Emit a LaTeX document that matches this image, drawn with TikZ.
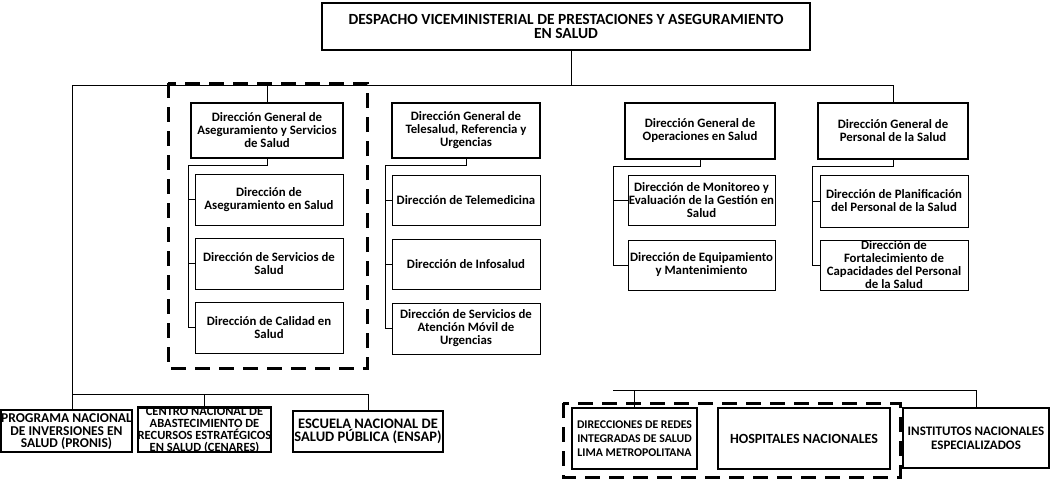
\documentclass[tikz,border=0pt]{standalone}
\usepackage{fontspec}
\setmainfont{Carlito}
\begin{document}
\begin{tikzpicture}[x=1pt,y=-1pt,
  lbl/.style={font=\bfseries\fontsize{12.8}{13}\selectfont, align=center, inner sep=0pt},
  dgbox/.style={lbl, draw, line width=2.2pt},
  subbox/.style={lbl, draw, line width=0.8pt},
  instbox/.style={draw, line width=2.2pt, inner sep=0pt, align=center},
  fs/.style 2 args={font=\bfseries\fontsize{#1}{#2}\selectfont},
  topbox/.style={draw, line width=2.2pt, inner sep=0pt, align=center, font=\bfseries\fontsize{15.5}{14.5}\selectfont},
  conn/.style={line width=0.8pt},
  grp/.style={line width=3pt, dash pattern=on 15pt off 9pt},
  sz/.style 2 args={minimum width=#1pt, minimum height=#2pt}]
\useasboundingbox (0,0) rectangle (1051,479);

% top
\node[topbox, sz={488}{47}] (top) at (566,26.5) {DESPACHO VICEMINISTERIAL DE PRESTACIONES Y ASEGURAMIENTO\\EN SALUD};

% column 1
\node[dgbox, sz={152}{55}] (dga) at (267,130.5) {Dirección General de\\Aseguramiento y Servicios\\de Salud};
\node[subbox, sz={148}{51}] (a1) at (269,199.5) {Dirección de\\Aseguramiento en Salud};
\node[subbox, sz={148}{51}] (a2) at (269,263.5) {Dirección de Servicios de\\Salud};
\node[subbox, sz={148}{51}] (a3) at (269,327.5) {Dirección de Calidad en\\Salud};

% column 2
\node[dgbox, sz={148}{55}] (dgt) at (466,130.5) {Dirección General de\\Telesalud, Referencia y\\Urgencias};
\node[subbox, sz={148}{50}] (t1) at (466,200) {Dirección de Telemedicina};
\node[subbox, sz={148}{50}] (t2) at (466,264) {Dirección de Infosalud};
\node[subbox, sz={148}{51}] (t3) at (466,328.5) {Dirección de Servicios de\\Atención Móvil de\\Urgencias};

% column 3
\node[dgbox, sz={150}{56}] (dgo) at (700,131) {Dirección General de\\Operaciones en Salud};
\node[subbox, sz={147}{50}] (o1) at (701.5,200) {Dirección de Monitoreo y\\Evaluación de la Gestión en\\Salud};
\node[subbox, sz={147}{50}] (o2) at (701.5,265) {Dirección de Equipamiento\\y Mantenimiento};

% column 4
\node[dgbox, sz={150}{56}] (dgp) at (893,131) {Dirección General de\\Personal de la Salud};
\node[subbox, sz={148}{52}] (p1) at (894,201) {Dirección de Planificación\\del Personal de la Salud};
\node[subbox, sz={148}{50}] (p2) at (894,265) {Dirección de\\Fortalecimiento de\\Capacidades del Personal\\de la Salud};

% bottom left
\node[instbox, fs={13.5}{12.5}, sz={127}{42}, text depth=-10pt] (pronis) at (66.5,431) {PROGRAMA NACIONAL\\DE INVERSIONES EN\\SALUD (PRONIS)};
\node[instbox, fs={12.5}{12}, sz={125}{41}, text depth=-4pt] (cenares) at (204.5,429.5) {CENTRO NACIONAL DE\\ABASTECIMIENTO DE\\RECURSOS ESTRATÉGICOS\\EN SALUD (CENARES)};
\node[instbox, fs={14.5}{13}, sz={150}{41}] (ensap) at (368,431.5) {ESCUELA NACIONAL DE\\SALUD PÚBLICA (ENSAP)};

% bottom right
\node[instbox, fs={11.8}{14}, sz={125}{61}] (redes) at (634.5,438.5) {DIRECCIONES DE REDES\\INTEGRADAS DE SALUD\\LIMA METROPOLITANA};
\node[instbox, fs={14}{14}, sz={172}{61}] (hosp) at (804,438.5) {HOSPITALES NACIONALES};
\node[instbox, fs={13}{14}, sz={146}{60}, text depth=-10pt] (inst) at (976,438) {INSTITUTOS NACIONALES\\ESPECIALIZADOS};

% connectors
\coordinate (hl) at (72,85);
\coordinate (bl) at (72,394);
\coordinate (rl) at (613,390);
\coordinate (ka) at (188,165);
\coordinate (kt) at (385,165);
\coordinate (ko) at (613,166);
\coordinate (kp) at (812,166);

\draw[conn] (top.south) ++(5,0) coordinate (tc) -- (tc |- hl);
\draw[conn] (hl) -| (dgp.north);
\draw[conn] (dga.north |- hl) -- (dga.north);
\draw[conn] (hl) -- (pronis.north -| hl);
\draw[conn] (bl) -| (ensap.north);
\draw[conn] (cenares.north |- bl) -- (cenares.north);

\draw[conn] (dga.south) |- (ka) -- (ka |- a3.west);
\draw[conn] (ka |- a1.west) -- (a1.west);
\draw[conn] (ka |- a2.west) -- (a2.west);
\draw[conn] (ka |- a3.west) -- (a3.west);

\draw[conn] (dgt.south) |- (kt) -- (kt |- t3.west);
\draw[conn] (kt |- t1.west) -- (t1.west);
\draw[conn] (kt |- t2.west) -- (t2.west);
\draw[conn] (kt |- t3.west) -- (t3.west);

\draw[conn] (dgo.south) |- (ko) -- (ko |- o2.west);
\draw[conn] (ko |- o1.west) -- (o1.west);
\draw[conn] (ko |- o2.west) -- (o2.west);

\draw[conn] (dgp.south) |- (kp) -- (kp |- p2.west);
\draw[conn] (kp |- p1.west) -- (p1.west);
\draw[conn] (kp |- p2.west) -- (p2.west);

\draw[conn] (rl) -| (inst.north);
\draw[conn] (redes.north |- rl) -- (redes.north);

% dashed groups
\draw[grp] (168,83) rectangle (367,368);
\draw[grp] (563,403) rectangle (900,477);
\end{tikzpicture}
\end{document}
